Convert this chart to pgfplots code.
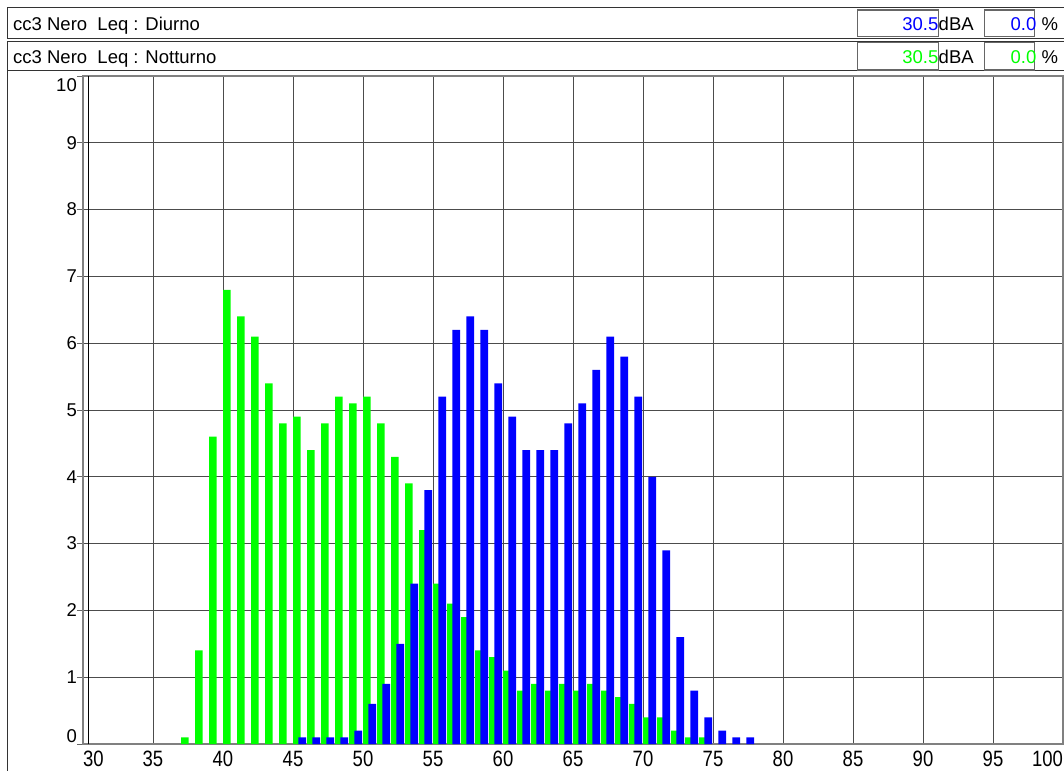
\documentclass[border=0pt]{standalone}
\usepackage{pgfplots}
\pgfplotsset{compat=1.18}
\usepackage{pgfplotstable}
\usepackage{graphicx}
\usepackage{fontspec}
\setmainfont{Liberation Sans}
\definecolor{dgreen}{RGB}{0,255,0}
\definecolor{dblue}{RGB}{0,0,255}
\pgfplotstableread{
bin val
37 0.1
38 1.4
39 4.6
40 6.8
41 6.4
42 6.1
43 5.4
44 4.8
45 4.9
46 4.4
47 4.8
48 5.2
49 5.1
50 5.2
51 4.8
52 4.3
53 3.9
54 3.2
55 2.4
56 2.1
57 1.9
58 1.4
59 1.3
60 1.1
61 0.8
62 0.9
63 0.8
64 0.9
65 0.8
66 0.9
67 0.8
68 0.7
69 0.6
70 0.4
71 0.4
72 0.2
73 0.1
74 0.1
}\notturno
\pgfplotstableread{
bin val
45 0.1
46 0.1
47 0.1
48 0.1
49 0.2
50 0.6
51 0.9
52 1.5
53 2.4
54 3.8
55 5.2
56 6.2
57 6.4
58 6.2
59 5.4
60 4.9
61 4.4
62 4.4
63 4.4
64 4.8
65 5.1
66 5.6
67 6.1
68 5.8
69 5.2
70 4.0
71 2.9
72 1.6
73 0.8
74 0.4
75 0.2
76 0.1
77 0.1
}\diurno
\newcommand{\xl}[1]{\scalebox{1}[1.2]{#1}}
\begin{document}
\fontsize{18.5}{22}\selectfont
\begin{tikzpicture}
\useasboundingbox (0pt,0pt) rectangle (1064pt,771pt);
% header rows
\draw[black!80, line width=1.3pt] (7.5pt,763.7pt) rectangle (1066pt,732.7pt);
\draw[black!80, line width=1.3pt] (7.5pt,729.3pt) rectangle (1066pt,700.3pt);
\draw[black!80, line width=1.3pt] (7.5pt,700.3pt) -- (7.5pt,0pt);
\node[anchor=base west, inner sep=0pt] at (13pt,740.3pt) {cc3 Nero\ \ Leq : Diurno};
\node[anchor=base west, inner sep=0pt] at (13pt,707pt) {cc3 Nero\ \ Leq : Notturno};
% value boxes row 1
\draw[black!60, line width=1.2pt] (857.3pt,761pt) rectangle (938.3pt,734.3pt);
\draw[black!60, line width=1.2pt] (984.3pt,761pt) rectangle (1034.3pt,734.3pt);
\node[anchor=base east, inner sep=0pt, text=dblue] at (938.5pt,740.3pt) {30.5};
\node[anchor=base west, inner sep=0pt] at (938.5pt,740.3pt) {dBA};
\node[anchor=base east, inner sep=0pt, text=dblue] at (1036.5pt,740.3pt) {0.0};
\node[anchor=base west, inner sep=0pt] at (1041.5pt,740.3pt) {\%};
% value boxes row 2
\draw[black!60, line width=1.2pt] (857.3pt,728.3pt) rectangle (938.3pt,701pt);
\draw[black!60, line width=1.2pt] (984.3pt,728.3pt) rectangle (1034.3pt,701pt);
\node[anchor=base east, inner sep=0pt, text=dgreen] at (938.5pt,707pt) {30.5};
\node[anchor=base west, inner sep=0pt] at (938.5pt,707pt) {dBA};
\node[anchor=base east, inner sep=0pt, text=dgreen] at (1036.5pt,707pt) {0.0};
\node[anchor=base west, inner sep=0pt] at (1041.5pt,707pt) {\%};
\begin{axis}[
  at={(83pt,27pt)}, anchor=south west,
  scale only axis, width=980pt, height=668pt,
  xmin=30, xmax=100, ymin=0, ymax=10,
  xtick={30,35,...,100},
  xticklabels={\makebox[0pt][l]{\xl{30}},\xl{35},\xl{40},\xl{45},\xl{50},\xl{55},\xl{60},\xl{65},\xl{70},\xl{75},\xl{80},\xl{85},\xl{90},\xl{95},\makebox[0pt][r]{\xl{100}}},
  ytick={0,...,10},
  yticklabels={\raisebox{8pt}[\height][\depth]{0},1,2,3,4,5,6,7,8,9,\raisebox{-9pt}[\height][\depth]{10}},
  grid=major,
  major grid style={black!70, line width=0.8pt},
  axis line style={black!50, line width=1.3pt},
  tick align=outside,
  x tick style={draw=none},
  y tick style={black!60, line width=0.8pt},
  major tick length=6pt,
  xticklabel style={anchor=north, inner sep=0pt, yshift=-1pt},
  yticklabel style={anchor=east, inner sep=0pt},
  tick label style={font=\fontsize{18.5}{22}\selectfont},
  /pgf/number format/assume math mode=true,
  axis on top=false,
  clip=false,
]
\addplot[ybar, bar width=0.53, bar shift=0pt, fill=dgreen, draw=none]
  table[x expr=\thisrow{bin}+0.28, y=val] {\notturno};
\addplot[ybar, bar width=0.54, bar shift=0pt, fill=dblue, draw=none]
  table[x expr=\thisrow{bin}+0.66, y=val] {\diurno};
\draw[black, line width=1.6pt] (axis cs:30.4,0) -- (axis cs:30.4,10);
\end{axis}
\end{tikzpicture}
\end{document}
